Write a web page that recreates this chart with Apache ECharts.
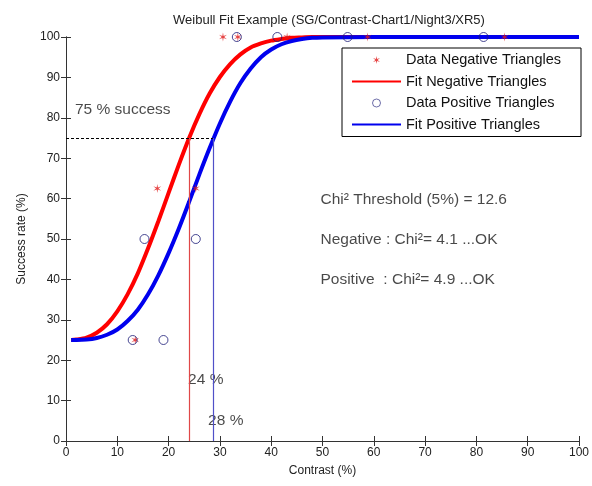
<!DOCTYPE html>
<html>
<head>
<meta charset="utf-8">
<script src="https://cdn.jsdelivr.net/npm/echarts@6/dist/echarts.min.js"></script>
<style>html,body{margin:0;padding:0;background:#fff}#c{width:592px;height:486px}</style>
</head>
<body>
<div id="c"></div>
<script>
// Data
var negDataX = [13.5, 17.8, 25.3, 30.6, 33.5, 43.1, 58.8, 85.5];
var negDataY = [25, 62.5, 62.5, 100, 100, 100, 100, 100];
var posDataX = [13.0, 19.0, 15.3, 25.3, 33.3, 41.2, 54.9, 81.4];
var posDataY = [25, 25, 50, 50, 100, 100, 100, 100];
var fitX = [1, 2, 4, 6, 8, 10, 12, 14, 16, 18, 20, 22, 24, 26, 28, 30, 32, 34, 36, 38, 40, 42, 44, 46, 48, 50, 60, 100];
var negFitY = [25, 25.1, 25.6, 26.8, 28.9, 32.1, 36.3, 41.5, 47.7, 54.4, 61.4, 68.4, 75.0, 80.9, 86.0, 90.1, 93.3, 95.7, 97.4, 98.4, 99.1, 99.5, 99.8, 99.9, 100, 100, 100, 100];
var posFitY = [25, 25, 25.1, 25.5, 26.3, 27.6, 29.7, 32.5, 36.3, 41.0, 46.5, 52.6, 59.2, 66.0, 72.5, 78.6, 84.0, 88.6, 92.2, 95.0, 96.9, 98.2, 99.0, 99.5, 99.8, 99.9, 100, 100];
var negThreshold = 24;
var posThreshold = 28.8;
var successLevel = 75;
var seriesNames = ['Data Negative Triangles', 'Fit Negative Triangles', 'Data Positive Triangles', 'Fit Positive Triangles'];
var notes = [
  {x: 1.75, y: 81.9, text: '75 % success'},
  {x: 23.8, y: 15.1, text: '24 %'},
  {x: 27.7, y: 5, text: '28 %'},
  {x: 49.6, y: 59.8, text: 'Chi\u00b2 Threshold (5%) = 12.6'},
  {x: 49.6, y: 49.8, text: 'Negative : Chi\u00b2= 4.1 ...OK'},
  {x: 49.6, y: 39.9, text: 'Positive  : Chi\u00b2= 4.9 ...OK'}
];

function zip(a, b) { return a.map(function (v, i) { return [v, b[i]]; }); }
var starPath = 'path://M0,5 L0.7,1.2 L4.33,2.5 L1.4,0 L4.33,-2.5 L0.7,-1.2 L0,-5 L-0.7,-1.2 L-4.33,-2.5 L-1.4,0 L-4.33,2.5 L-0.7,1.2 Z';
var FONT = 'Liberation Sans, Arial, sans-serif';

var chart = echarts.init(document.getElementById('c'));
var axisCommon = {
  type: 'value', min: 0, max: 100, interval: 10,
  axisLine: {show: true, lineStyle: {color: '#333', width: 1}},
  axisTick: {show: true, inside: true, length: 5, lineStyle: {color: '#333'}},
  splitLine: {show: false}
};
chart.setOption({
  animation: false,
  backgroundColor: '#fff',
  textStyle: {fontFamily: FONT},
  title: {
    text: 'Weibull Fit Example (SG/Contrast-Chart1/Night3/XR5)',
    left: 324, textAlign: 'center', top: 9,
    textStyle: {fontSize: 13, fontWeight: 'normal', color: '#222', fontFamily: FONT}
  },
  grid: {left: 66, right: 9, top: 37, bottom: 45},
  legend: {
    data: [
      {name: seriesNames[0]},
      {name: seriesNames[1], itemStyle: {opacity: 0}},
      {name: seriesNames[2], icon: 'circle', itemStyle: {color: 'rgba(255,255,255,0)', borderColor: '#1c1c78', borderWidth: 0.8}},
      {name: seriesNames[3], itemStyle: {opacity: 0}}
    ],
    orient: 'vertical', left: 342, top: 48,
    backgroundColor: '#fff', borderColor: '#000', borderWidth: 1,
    padding: [4, 20, 4, 9], itemWidth: 49, itemHeight: 8, itemGap: 5.5,
    textStyle: {fontSize: 14.5, lineHeight: 16, color: '#111', fontFamily: FONT}
  },
  xAxis: [
    Object.assign({}, axisCommon, {
      position: 'bottom', name: 'Contrast (%)', nameLocation: 'middle', nameGap: 24,
      nameTextStyle: {fontSize: 12, color: '#222'},
      axisLabel: {fontSize: 12, color: '#222', margin: 6}
    }),
    Object.assign({}, axisCommon, {position: 'top', axisLabel: {show: false}})
  ],
  yAxis: [
    Object.assign({}, axisCommon, {
      position: 'left', name: 'Success rate (%)', nameLocation: 'middle', nameGap: 38,
      nameTextStyle: {fontSize: 12, color: '#222'},
      axisLabel: {fontSize: 12, color: '#222', margin: 6}
    }),
    Object.assign({}, axisCommon, {position: 'right', axisLabel: {show: false}})
  ],
  series: [
    {
      name: seriesNames[0], type: 'scatter', data: zip(negDataX, negDataY),
      symbol: starPath, symbolKeepAspect: true, symbolSize: 9,
      itemStyle: {color: '#e01818'}, z: 3,
      markLine: {
        silent: true, symbol: 'none', label: {show: false},
        lineStyle: {color: '#000', width: 1, type: [3, 2]},
        data: [[{coord: [0, successLevel]}, {coord: [posThreshold, successLevel]}]]
      }
    },
    {
      name: seriesNames[1], type: 'line', data: zip(fitX, negFitY), smooth: 0.3,
      symbol: 'none', lineStyle: {color: '#ff0000', width: 4}, itemStyle: {color: '#ff0000'}, z: 3,
      markLine: {
        silent: true, symbol: 'none', label: {show: false},
        lineStyle: {color: '#e04848', width: 1.2, type: 'solid'},
        data: [[{coord: [negThreshold, 0]}, {coord: [negThreshold, successLevel]}]]
      }
    },
    {
      name: seriesNames[2], type: 'scatter', data: zip(posDataX, posDataY),
      symbol: 'circle', symbolSize: 9,
      itemStyle: {color: 'rgba(255,255,255,0)', borderColor: '#1c1c78', borderWidth: 1}, z: 3
    },
    {
      name: seriesNames[3], type: 'line', data: zip(fitX, posFitY), smooth: 0.3,
      symbol: 'none', lineStyle: {color: '#0000ee', width: 4}, itemStyle: {color: '#0000ee'}, z: 3,
      markLine: {
        silent: true, symbol: 'none', label: {show: false},
        lineStyle: {color: '#5050c8', width: 1.2, type: 'solid'},
        data: [[{coord: [posThreshold, 0]}, {coord: [posThreshold, successLevel]}]]
      }
    },
    {
      name: 'notes', type: 'scatter', symbolSize: 0, z: 4, silent: true,
      data: notes.map(function (n) { return {value: [n.x, n.y], text: n.text}; }),
      label: {
        show: true, position: 'right', distance: 0, fontSize: 15.5, color: '#1a1a1a',
        fontFamily: FONT,
        formatter: function (p) { return p.data.text; }
      }
    }
  ]
});
</script>
</body>
</html>
